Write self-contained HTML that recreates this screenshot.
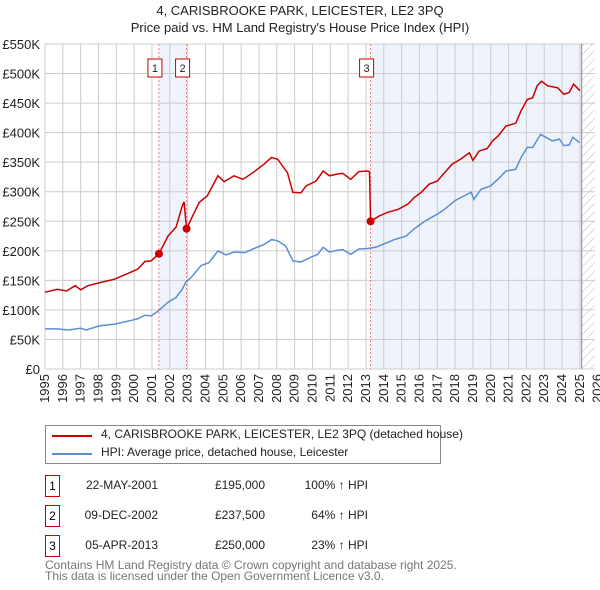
<!DOCTYPE html>
<html><head><meta charset="utf-8"><style>
body{margin:0;width:600px;height:590px;background:#fff;font-family:"Liberation Sans","DejaVu Sans",sans-serif;overflow:hidden;position:relative}
.t{position:absolute;font-size:13px;color:#222;white-space:nowrap}
</style></head><body>
<div class="t" style="left:0;width:600px;text-align:center;top:3px">4, CARISBROOKE PARK, LEICESTER, LE2 3PQ</div>
<div class="t" style="left:0;width:600px;text-align:center;top:20px">Price paid vs. HM Land Registry's House Price Index (HPI)</div>
<svg id="c" width="600" height="420" style="position:absolute;left:0;top:0"></svg>
<div style="position:absolute;left:45px;top:425px;width:394px;height:37px;border:1px solid #888">
<div style="position:absolute;left:6px;top:9px;width:40px;height:2px;background:#cc0000"></div>
<div class="t" style="left:55px;top:1px;font-size:12px">4, CARISBROOKE PARK, LEICESTER, LE2 3PQ (detached house)</div>
<div style="position:absolute;left:6px;top:27px;width:40px;height:2px;background:#5b8fd0"></div>
<div class="t" style="left:55px;top:19px;font-size:12px">HPI: Average price, detached house, Leicester</div>
</div>
<div id="rows"></div>
<div style="position:absolute;left:45px;top:560px;font-size:12px;color:#777;line-height:11px">Contains HM Land Registry data © Crown copyright and database right 2025.<br>This data is licensed under the Open Government Licence v3.0.</div>
<script>
const saleYears=[2001.39,2002.94,2013.26];
const saleValues=[195000,237500,250000];
const saleDates=["22-MAY-2001","09-DEC-2002","05-APR-2013"];
const salePrices=["£195,000","£237,500","£250,000"];
const saleHpi=["100% ↑ HPI","64% ↑ HPI","23% ↑ HPI"];
const redYears=[1995,1995.7,1996.2,1996.7,1997,1997.4,1998.05,1998.9,1999.6,2000.2,2000.6,2000.95,2001.39,2001.9,2002.35,2002.7,2002.8,2002.94,2003.2,2003.65,2004.1,2004.7,2005.05,2005.6,2006.1,2006.65,2007.3,2007.7,2008.05,2008.6,2008.9,2009.35,2009.65,2010.2,2010.6,2010.95,2011.4,2011.7,2012.15,2012.6,2013.1,2013.2,2013.26,2013.75,2014.2,2014.8,2015.35,2015.7,2016.1,2016.55,2017,2017.4,2017.85,2018.3,2018.8,2019,2019.35,2019.8,2020.1,2020.4,2020.85,2021.4,2021.7,2022.05,2022.35,2022.6,2022.85,2023.2,2023.75,2024.1,2024.4,2024.65,2025];
const redValues=[130,135,132,141,134,141,146,152,161,169,182,183,195,225,240,276,283,237.5,254,282,293,327,317,327,321,332,347,358,355,332,299,298,310,318,335,327,330,331,321,334,335,334,250,259,265,270,279,290,299,313,318,332,347,355,366,353,369,373,386,394,411,416,437,456,459,479,487,479,476,465,468,482,471];
const blueYears=[1995,1995.7,1996.3,1997,1997.3,1998.05,1998.9,1999.8,2000.2,2000.6,2000.95,2001.3,2001.9,2002.35,2002.7,2002.9,2003.2,2003.75,2004.2,2004.7,2005.15,2005.6,2006.2,2006.65,2007.3,2007.7,2008.05,2008.5,2008.9,2009.35,2009.9,2010.3,2010.6,2010.95,2011.4,2011.7,2012.15,2012.6,2013.1,2013.55,2013.95,2014.6,2015.25,2015.7,2016.35,2017,2017.4,2018,2018.5,2018.9,2019.05,2019.45,2020,2020.4,2020.85,2021.4,2021.7,2022.05,2022.35,2022.8,2023.45,2023.85,2024.1,2024.4,2024.6,2025];
const blueValues=[68,68,66,69,66,73,76,82,85,91,90,97,113,121,135,147,155,175,180,200,193,198,197,203,211,219,217,208,183,181,189,194,206,198,201,202,194,203,204,206,211,219,225,237,251,262,270,285,293,299,287,304,310,321,335,338,358,375,375,397,386,389,378,379,392,383];
const yTicks=[0,50,100,150,200,250,300,350,400,450,500,550];
const xTicks=[1995,1996,1997,1998,1999,2000,2001,2002,2003,2004,2005,2006,2007,2008,2009,2010,2011,2012,2013,2014,2015,2016,2017,2018,2019,2020,2021,2022,2023,2024,2025,2026];
const X=y=>45+(y-1995)*17.83, Y=v=>369-v*325/550;
const NS="http://www.w3.org/2000/svg", svg=document.getElementById('c');
function mk(t,a,p){const e=document.createElementNS(NS,t);for(const k in a)e.setAttribute(k,a[k]);(p||svg).appendChild(e);return e;}
const L=45,R=595,T=44,B=369;
let s=mk('rect',{x:X(saleYears[0]),y:T,width:X(saleYears[1])-X(saleYears[0]),height:B-T,fill:'#eef3fc'});


s=mk('rect',{x:X(saleYears[2]),y:T,width:X(2025.1)-X(saleYears[2]),height:B-T,fill:'#eef3fc'});


const defs=mk('defs',{});
const pat=mk('pattern',{id:'h',width:6,height:6,patternUnits:'userSpaceOnUse',patternTransform:'rotate(45)'},defs);
mk('line',{x1:0,y1:0,x2:0,y2:6,stroke:'#bbb','stroke-width':1},pat);
s=mk('rect',{x:X(2025.1),y:T,width:R-X(2025.1),height:B-T,fill:'url(#h)'});


yTicks.forEach(v=>{mk('line',{x1:L,x2:R,y1:Y(v),y2:Y(v),stroke:'#ccc'});
const t=mk('text',{x:40,y:Y(v)+5,'text-anchor':'end','font-size':13,fill:'#222'});t.textContent='£'+(v?v+'K':'0');

});
xTicks.forEach(yr=>{const x=X(yr);if(x<=R)mk('line',{x1:x,x2:x,y1:T,y2:B,stroke:'#ccc'});
const t=mk('text',{x:x+4,y:374,'text-anchor':'end','font-size':13,fill:'#222',transform:`rotate(-90 ${x+4} 374)`});t.textContent=yr;

});
mk('line',{x1:X(2025.1),x2:X(2025.1),y1:T,y2:B,stroke:'#888'});
mk('line',{x1:L,x2:L,y1:T,y2:B,stroke:'#ccc'});
mk('line',{x1:L,x2:R,y1:B,y2:B,stroke:'#ccc'});
saleYears.forEach((yr,i)=>{mk('line',{x1:X(yr),x2:X(yr),y1:T,y2:B,stroke:'#e66','stroke-dasharray':'2,2','stroke-width':0.8});});
function line(xs,vs,c,n){const p=mk('polyline',{points:xs.map((x,i)=>X(x)+','+Y(vs[i])).join(' '),fill:'none',stroke:c,'stroke-width':1.5});

}
line(blueYears,blueValues,'#5b8fd0','hpi-line');
line(redYears,redValues,'#cc0000','price-line');
saleYears.forEach((yr,i)=>{const c=mk('circle',{cx:X(yr),cy:Y(saleValues[i]/1000),r:4,fill:'#cc0000'});


const g=mk('g',{});


mk('rect',{x:X(yr)-11,y:59,width:14,height:18,fill:'#fff',stroke:'#cc0000'},g);
const t=mk('text',{x:X(yr)-4,y:72,'text-anchor':'middle','font-size':11,fill:'#222'},g);t.textContent=i+1;});
const rows=document.getElementById('rows');
const ry=[475,505,535];
saleDates.forEach((d,i)=>{const y=ry[i];
rows.insertAdjacentHTML('beforeend',`<div><div style="position:absolute;left:45px;top:${y}px;width:13px;height:20px;border:1px solid #cc0000;font-size:12px;text-align:center;line-height:20px">${i+1}</div><div class="t" style="left:60px;width:98px;text-align:right;top:${y+3}px;font-size:12px">${d}</div><div class="t" style="left:195px;width:70px;text-align:right;top:${y+3}px;font-size:12px">${salePrices[i]}</div><div class="t" style="left:290px;width:78px;text-align:right;top:${y+3}px;font-size:12px">${saleHpi[i]}</div></div>`);});
</script>
</body></html>
